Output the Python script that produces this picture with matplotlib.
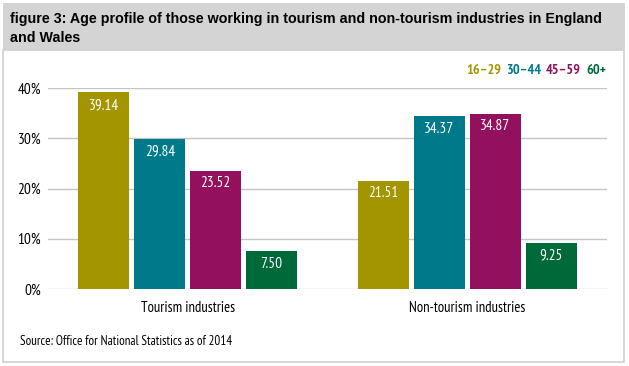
import numpy as np
import matplotlib.pyplot as plt
from matplotlib import font_manager as fm
from matplotlib.patches import Rectangle

# data
groups = ["Tourism industries", "Non-tourism industries"]
ages = ["16\u201329", "30\u201344", "45\u201359", "60+"]
tourism = [39.14, 29.84, 23.52, 7.50]
non_tourism = [21.51, 34.37, 34.87, 9.25]
colors = ["#A39500", "#007A8A", "#93105E", "#00693A"]
yticks = [0, 10, 20, 30, 40]

# condensed face if available
installed = {f.name for f in fm.fontManager.ttflist}
if "PT Sans Narrow" in installed:
    plt.rcParams['font.family'] = ['PT Sans Narrow', 'DejaVu Sans']
else:
    plt.rcParams['font.family'] = ['DejaVu Sans']
    plt.rcParams['font.stretch'] = 'condensed'

fig = plt.figure(figsize=(6.29, 3.66), dpi=100)
W, H = 629, 366

# title band and white box
fig.patches.append(Rectangle((3 / W, 1 - 50 / H), 622 / W, 47 / H,
                             transform=fig.transFigure, facecolor="#D4D4D4",
                             edgecolor="none", zorder=-2))
fig.patches.append(Rectangle((3 / W, 1 - 362 / H), 621 / W, 312 / H,
                             transform=fig.transFigure, facecolor="white",
                             edgecolor="#D0D0D0", linewidth=1.2, zorder=-2))

title_font = ["Liberation Sans", "DejaVu Sans"]
t1 = fig.text(10 / W, 1 - 23 / H,
              "figure 3: Age profile of those working in tourism and non-tourism industries in England",
              fontsize=11, fontweight="bold", va="baseline", ha="left",
              family=title_font, fontstretch="normal")
fig.canvas.draw()
# fit the title width to the reference (about 593 px)
fs = 11 * 593 / t1.get_window_extent().width
t1.set_fontsize(fs)
fig.text(10 / W, 1 - 42 / H, "and Wales",
         fontsize=fs, fontweight="bold", va="baseline", ha="left",
         family=title_font, fontstretch="normal")

ax = fig.add_axes([48 / W, 1 - 289 / H, 559 / W, 201 / H])
ax.set_facecolor("none")
ax.set_zorder(2)

x = np.arange(len(groups))
width = 0.1825
step = 0.2
data = np.array([tourism, non_tourism])
for i, age in enumerate(ages):
    pos = x + (i - 1.5) * step
    vals = data[:, i]
    ax.bar(pos, vals, width=width, color=colors[i], zorder=3)
    for p, v in zip(pos, vals):
        ax.text(p, v - 1.1, f"{v:.2f}", ha="center", va="top", color="white",
                fontsize=11, zorder=4)

ax.set_xlim(-0.5, 1.5)
ax.set_ylim(0, 40)
ax.set_yticks(yticks)
ax.set_yticklabels([f"{t}%" for t in yticks], fontsize=11)
ax.yaxis.grid(True, color="#C4C4C4", linewidth=1.0, zorder=0)
ax.set_xticks(x)
ax.set_xticklabels(groups, fontsize=10.5)
ax.tick_params(length=0, pad=5)
ax.tick_params(axis="x", pad=9)
for s in ax.spines.values():
    s.set_visible(False)

# coloured legend text, right aligned
xr = 606 / W
for age, c in reversed(list(zip(ages, colors))):
    t = fig.text(xr, 1 - 74 / H, age, color=c, fontsize=10.3, fontweight="bold",
                 ha="right", va="baseline")
    fig.canvas.draw()
    bb = t.get_window_extent()
    xr = (bb.x0 - 5) / W

fig.text(20 / W, 1 - 345 / H, "Source: Office for National Statistics as of 2014",
         fontsize=9.4, ha="left", va="baseline")

fig.savefig("out.png", dpi=100)
